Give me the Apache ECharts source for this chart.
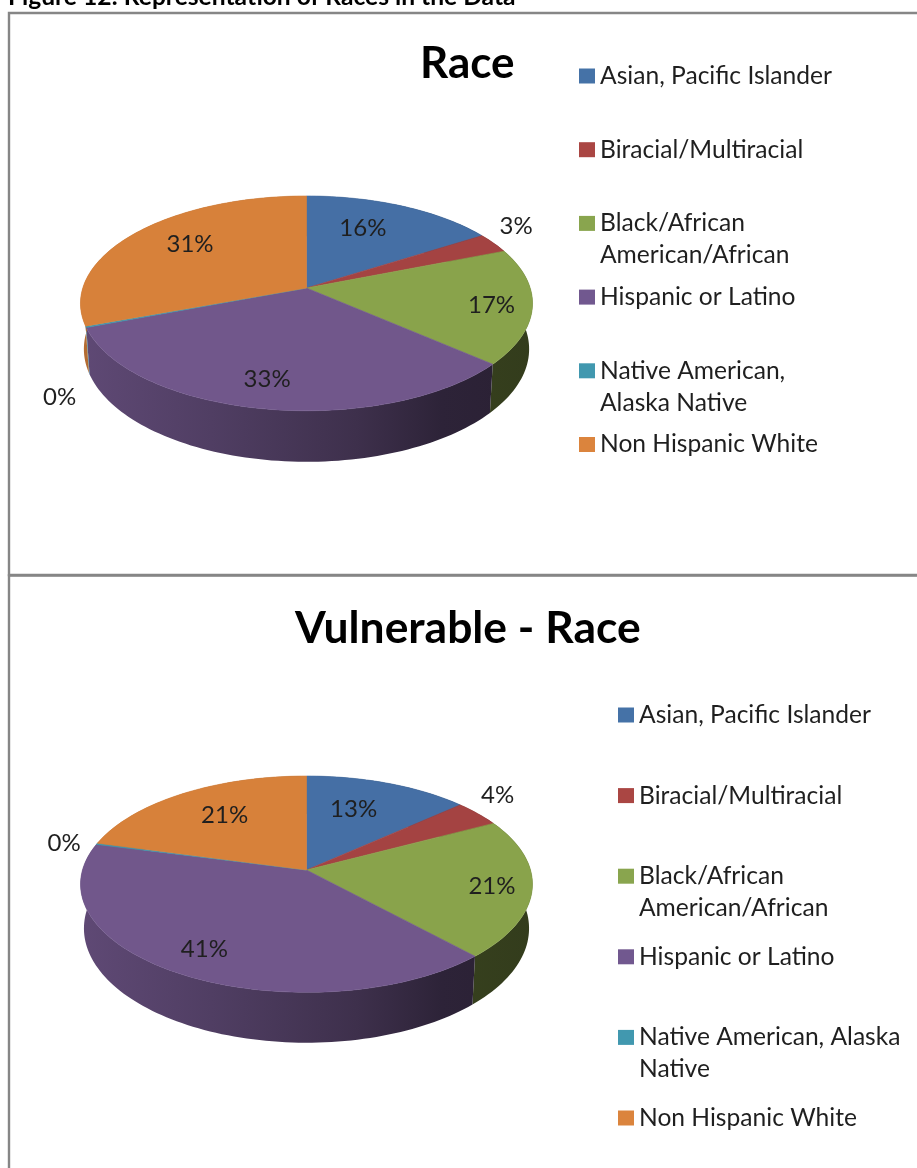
<!DOCTYPE html>
<html>
<head>
<meta charset="utf-8">
<style>html,body{margin:0;padding:0;background:#fff}#c{width:917px;height:1168px}</style>
<script src="https://cdn.jsdelivr.net/npm/echarts@6/dist/echarts.min.js"></script>
</head>
<body>
<div id="c"></div>
<script>
// ---- data ----
const categories = ['Asian, Pacific Islander','Biracial/Multiracial','Black/African American/African','Hispanic or Latino','Native American, Alaska Native','Non Hispanic White'];
const raceValues = [16, 3, 17.4, 32.8, 0.2, 30.6];
const vulnerableValues = [13.4, 3.9, 20.8, 40.9, 0.2, 20.8];
const raceLegendLines = [['Asian, Pacific Islander'],['Biracial/Multiracial'],['Black/African','American/African'],['Hispanic or Latino'],['Native American,','Alaska Native'],['Non Hispanic White']];
const vulnerableLegendLines = [['Asian, Pacific Islander'],['Biracial/Multiracial'],['Black/African','American/African'],['Hispanic or Latino'],['Native American, Alaska','Native'],['Non Hispanic White']];

// ---- styles and layout ----
const faceColors = ['#456fa5','#a44342','#89a34b','#71578b','#3e96ae','#d7813a'];
const legendColors = ['#4572a7','#aa4643','#89a54e','#71588f','#4198af','#db843d'];
const FONT = 'Lato';
const INK = '#1f1f1f';
const raceLayout = {
  cx:306.5, cy:288, a:223.7, b:105.2, p:-0.143, sx:0.985, sy:1.05, dy:44.9,
  labelR:[0.7,1.1,0.7,0.7,1.1,0.7],
  labelShift:[[-13,0],[5,-13],[28,5],[-9,11],[-3,66],[5,-4]]
};
const vulnerableLayout = {
  cx:306.5, cy:870, a:224, b:106.3, p:-0.131, sx:0.985, sy:1.057, dy:43.4,
  labelR:[0.7,1.1,0.7,0.7,1.1,0.7],
  labelShift:[[-12,2],[4,-13.5],[28.5,4],[-15,10],[-12.6,2],[7,0]]
};

function project(L, turn, r){
  const t = turn * 2 * Math.PI, u = r * Math.sin(t), v = -r * Math.cos(t), d = 1 + L.p * v;
  return [L.a * u / d, L.b * v / d];
}
function shade(hex, k){
  const n = parseInt(hex.slice(1), 16);
  const c = s => Math.round(((n >> s) & 255) * k);
  return 'rgb(' + c(16) + ',' + c(8) + ',' + c(0) + ')';
}
function makeSeries(values, L){
  const total = values.reduce((s, v) => s + v, 0);
  let acc = 0;
  return values.map((value, i) => {
    const start = acc / total; acc += value; const end = acc / total;
    const color = faceColors[i];
    return {
      type: 'custom', name: categories[i], coordinateSystem: 'none',
      itemStyle: {color: legendColors[i]}, data: [value], silent: true, animation: false,
      renderItem: function(){
        const n = Math.max(4, Math.ceil((end - start) * 240));
        const top = [], low = [];
        for (let k = 0; k <= n; k++) {
          const q = project(L, start + (end - start) * k / n, 1);
          top.push([L.cx + q[0], L.cy + q[1]]);
          low.push([L.cx + q[0] * L.sx, L.cy + q[1] * L.sy + L.dy]);
        }
        const mid = project(L, (start + end) / 2, L.labelR[i]);
        const x0 = L.cx - 226, w = 452;
        return {type: 'group', children: [
          {type: 'polygon', z2: 1, shape: {points: top.concat(low.slice().reverse())},
           style: {fill: {type: 'linear', global: true, x: x0, y: 0, x2: x0 + w, y2: 0, colorStops: [
             {offset: 0, color: shade(color, 0.84)}, {offset: 0.29, color: shade(color, 0.71)},
             {offset: 0.61, color: shade(color, 0.55)}, {offset: 0.8, color: shade(color, 0.4)},
             {offset: 1, color: shade(color, 0.37)}]}}},
          {type: 'polygon', z2: 2, shape: {points: [[L.cx, L.cy]].concat(top)},
           style: {fill: color, stroke: color, lineWidth: 0.6}},
          {type: 'text', z2: 3, style: {
             text: Math.round(value) + '%',
             x: L.cx + mid[0] + L.labelShift[i][0], y: L.cy + mid[1] + L.labelShift[i][1],
             align: 'center', verticalAlign: 'middle', fontFamily: FONT, fontSize: 24, fill: INK}}
        ]};
      }
    };
  });
}
function makeLegend(lines, left, top, gap){
  return {
    orient: 'vertical', left: left, top: top, height: 505, padding: 0, itemGap: gap,
    itemWidth: 16, itemHeight: 15, icon: 'rect', data: categories, selectedMode: false,
    formatter: name => {
      const l = lines[categories.indexOf(name)];
      return '\n' + l[0] + '\n' + (l[1] || ' ');
    },
    textStyle: {fontFamily: FONT, fontSize: 24.6, lineHeight: 32, color: INK}
  };
}
const frameColor = '#868686';
const option = {
  backgroundColor: '#fff', animation: false,
  title: [
    {text: 'Figure 12: Representation of Races in the Data', left: 8, top: -15, padding: 0,
     textStyle: {fontFamily: FONT, fontWeight: 'bold', fontSize: 24.6, color: '#000'}},
    {text: 'Race', left: 420, top: 42, padding: 0,
     textStyle: {fontFamily: FONT, fontWeight: 'bold', fontSize: 44, color: '#000'}},
    {text: 'Vulnerable - Race', left: 295, top: 607, padding: 0,
     textStyle: {fontFamily: FONT, fontWeight: 'bold', fontSize: 44.4, color: '#000'}}
  ],
  legend: [makeLegend(raceLegendLines, 579, 28, -22.3), makeLegend(vulnerableLegendLines, 618, 667, -15.4)],
  graphic: [
    {type: 'rect', silent: true, z: -1, shape: {x: 9, y: 13, width: 1000, height: 562}, style: {fill: 'none', stroke: frameColor, lineWidth: 2.4}},
    {type: 'rect', silent: true, z: -1, shape: {x: 9, y: 575.5, width: 1000, height: 700}, style: {fill: 'none', stroke: frameColor, lineWidth: 2.4}}
  ],
  series: makeSeries(raceValues, raceLayout).concat(makeSeries(vulnerableValues, vulnerableLayout))
};
echarts.init(document.getElementById('c'), null, {renderer: 'canvas'}).setOption(option);
</script>
</body>
</html>
